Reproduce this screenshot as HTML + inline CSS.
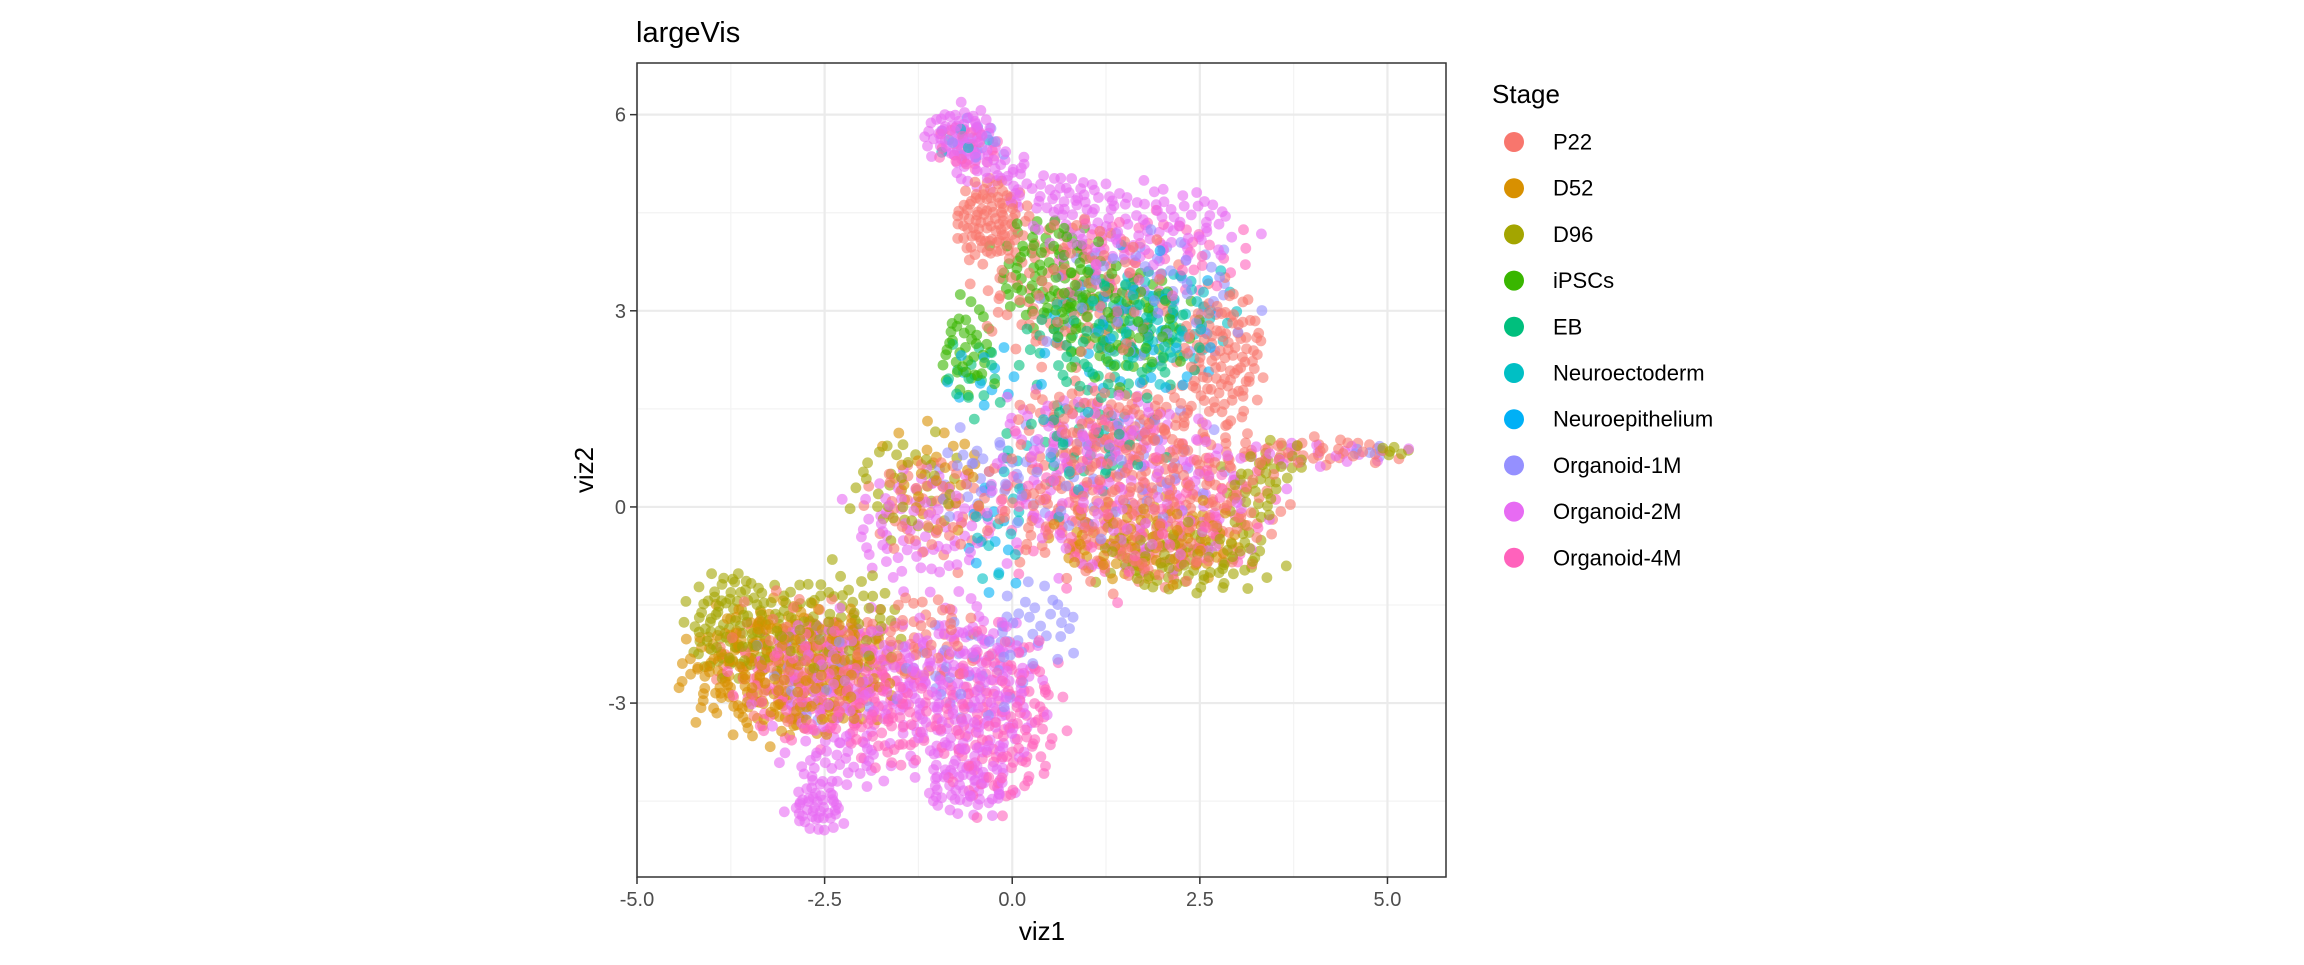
<!DOCTYPE html>
<html><head><meta charset="utf-8"><style>
body{margin:0;background:#fff;}
svg text{font-family:"Liberation Sans",sans-serif;}
</style></head><body>
<svg id="chart" width="2304" height="960" xmlns="http://www.w3.org/2000/svg">
<rect width="2304" height="960" fill="#fff"/>
<text x="636" y="42" font-size="29" fill="#000">largeVis</text>
<g id="grid"></g>
<g id="pts"></g>
<rect x="637" y="63" width="809" height="814" fill="none" stroke="#333" stroke-width="1.5"/>
<g id="axes"></g>
<text x="1042" y="940" font-size="26" text-anchor="middle" fill="#000">viz1</text>
<text transform="translate(593,470) rotate(-90)" font-size="26" text-anchor="middle" fill="#000">viz2</text>
<g id="legend">
<text x="1492" y="103" font-size="26" fill="#000">Stage</text>
</g>
</svg>
<script>
const stages=["P22","D52","D96","iPSCs","EB","Neuroectoderm","Neuroepithelium","Organoid-1M","Organoid-2M","Organoid-4M"];
const colors=["#F8766D","#D89000","#A3A500","#39B600","#00BF7D","#00BFC4","#00B0F6","#9590FF","#E76BF3","#FF62BC"];
const xTicks=[-5,-2.5,0,2.5,5];
const xTickLabels=["-5.0","-2.5","0.0","2.5","5.0"];
const yTicks=[-3,0,3,6];
const yTickLabels=["-3","0","3","6"];
const xMinor=[-3.75,-1.25,1.25,3.75];
const yMinor=[-4.5,-1.5,1.5,4.5];
// cluster blobs: stage index, center x, center y, spread x, spread y, point count
const blobStage=[8,9,7,5, 0,0,0,3,3,4,5,6,7,8,9,3,4,6,8, 0,8,2,2,7, 0,2,1,8,9,7,4,5,2, 0,8,2,1,7, 1,2,2,9,8,0,7, 8,9,8,8,7,7,0, 0,8,9,8,8,6,5];
const blobX=[-0.7,-0.6,-0.5,-0.7, -0.3,0.8,2.8,0.5,1.5,1.3,2.0,1.6,1.8,1.7,1.8,-0.6,-0.5,-0.4,0.5, 4.0,4.0,3.6,5.1,4.8, 1.7,2.3,1.8,1.5,1.5,1.2,1.0,0.6,3.2, -1.0,-1.2,-1.4,-1.0,-0.5, -3.0,-3.7,-2.4,-2.5,-2.2,-2.8,-2.5, -0.6,-0.2,-2.6,-0.6,-0.6,0.3,-1.2, 1.3,1.0,-1.6,-2.3,-0.3,-0.3,-0.2];
const blobY=[5.7,5.5,5.6,5.6, 4.4,3.3,2.3,3.6,2.8,2.5,2.9,2.6,3.2,4.3,3.8,2.4,2.0,2.0,4.8, 0.85,0.8,0.7,0.85,0.85, 0.1,-0.8,-0.5,0.2,0.0,0.5,1.0,0.6,0.2, 0.0,-0.3,0.3,0.5,0.5, -2.5,-1.8,-1.8,-2.7,-2.6,-2.3,-2.6, -2.9,-3.2,-4.6,-4.3,-2.5,-1.8,-2.0, 1.4,1.3,-3.2,-3.9,5.2,-0.6,-0.4];
const blobSX=[0.45,0.4,0.4,0.4, 0.45,1.2,0.55,0.7,0.9,1.1,0.9,1.3,1.3,1.3,1.3,0.35,0.4,0.5,0.8, 1.1,1.1,0.4,0.2,0.3, 1.7,1.1,1.3,1.8,1.8,1.5,1.0,1.0,0.4, 0.9,0.9,0.7,0.7,0.6, 1.3,0.6,0.9,1.1,1.1,1.2,1.0, 0.9,0.8,0.35,0.6,0.7,0.6,0.7, 1.2,1.2,0.6,0.7,0.5,0.4,0.4];
const blobSY=[0.4,0.4,0.3,0.3, 0.6,1.1,1.0,0.8,0.8,0.9,0.8,1.2,1.0,0.6,0.7,0.7,0.6,0.6,0.3, 0.2,0.2,0.3,0.1,0.1, 1.2,0.5,0.6,1.2,1.2,1.0,0.6,0.8,0.6, 0.8,0.9,0.8,0.8,0.6, 0.95,0.8,0.8,0.9,1.0,0.9,0.8, 1.3,1.3,0.35,0.4,0.8,0.6,0.7, 0.5,0.5,0.8,0.4,0.3,0.8,0.8];
const blobN=[60,25,15,6, 90,120,110,90,90,90,60,40,70,100,60,40,15,12,40, 40,20,15,6,6, 350,90,90,150,100,60,30,20,30, 60,80,40,30,25, 300,100,80,150,120,80,30, 220,160,45,50,30,30,50, 80,50,60,40,30,12,12];
// fixed radial spread factors that make cluster edges irregular
const edgeJitter=[0.78,1.12,0.92,1.25,0.85,1.05,0.97,1.2,0.8,1.1,0.9,1.3,1.0,0.88,1.15];

const NS="http://www.w3.org/2000/svg";
const L=637,R=1446,T=63,B=877;
const xMin=-5,xMax=5.78,yMin=-5.66,yMax=6.79;
const sx=v=>L+(v-xMin)/(xMax-xMin)*(R-L);
const sy=v=>B-(v-yMin)/(yMax-yMin)*(B-T);
function mk(tag,attrs,parent){const e=document.createElementNS(NS,tag);for(const k in attrs)e.setAttribute(k,attrs[k]);parent.appendChild(e);return e;}

const grid=document.getElementById('grid');
xMinor.forEach(m=>{
  const l=mk('line',{x1:sx(m),x2:sx(m),y1:T,y2:B,stroke:'#F3F3F3','stroke-width':1.2},grid);
  
  
});
yMinor.forEach(m=>{
  const l=mk('line',{x1:L,x2:R,y1:sy(m),y2:sy(m),stroke:'#F3F3F3','stroke-width':1.2},grid);
  
  
});
xTicks.forEach(v=>{
  const l=mk('line',{x1:sx(v),x2:sx(v),y1:T,y2:B,stroke:'#EBEBEB','stroke-width':2.2},grid);
  
  
});
yTicks.forEach(v=>{
  const l=mk('line',{x1:L,x2:R,y1:sy(v),y2:sy(v),stroke:'#EBEBEB','stroke-width':2.2},grid);
  
  
});

// points
const pts=[];
for(let b=0;b<blobN.length;b++){
  const n=blobN[b];
  for(let k=0;k<n;k++){
    const j=edgeJitter[(k*7+b)%edgeJitter.length];
    const r=Math.sqrt((k+0.5)/n)*j, th=k*2.39996+b;
    pts.push({x:blobX[b]+blobSX[b]*r*Math.cos(th),y:blobY[b]+blobSY[b]*r*Math.sin(th),s:blobStage[b],o:(pts.length*7919)%10007});
  }
}
pts.sort((a,c)=>a.o-c.o);
const pg=document.getElementById('pts');
pts.forEach(p=>{
  const c=mk('circle',{cx:sx(p.x).toFixed(1),cy:sy(p.y).toFixed(1),r:5.4,fill:colors[p.s],'fill-opacity':0.6},pg);
  
  
});

// axes
const ax=document.getElementById('axes');
xTicks.forEach((v,i)=>{
  const t=mk('line',{x1:sx(v),x2:sx(v),y1:B,y2:B+7,stroke:'#333','stroke-width':1.5},ax);
  
  
  const tx=mk('text',{x:sx(v),y:B+29,'font-size':20,'text-anchor':'middle',fill:'#4D4D4D'},ax);
  tx.textContent=xTickLabels[i];
  
  
});
yTicks.forEach((v,i)=>{
  const t=mk('line',{x1:L-7,x2:L,y1:sy(v),y2:sy(v),stroke:'#333','stroke-width':1.5},ax);
  
  
  const tx=mk('text',{x:L-11,y:sy(v)+7,'font-size':20,'text-anchor':'end',fill:'#4D4D4D'},ax);
  tx.textContent=yTickLabels[i];
  
  
});

// legend
const lg=document.getElementById('legend');
stages.forEach((s,i)=>{
  const cy=142+i*46.2;
  const c=mk('circle',{cx:1514,cy:cy,r:10,fill:colors[i]},lg);
  
  
  const t=mk('text',{x:1553,y:cy+7.5,'font-size':22,fill:'#000'},lg);
  t.textContent=s;
  
  
});
</script>
</body></html>
